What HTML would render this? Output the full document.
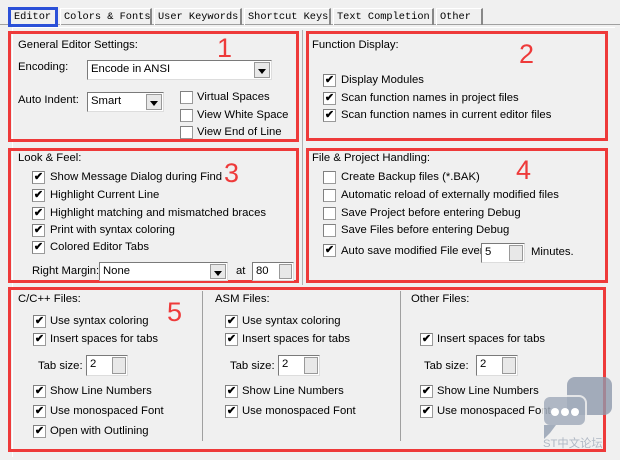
<!DOCTYPE html>
<html><head><meta charset="utf-8"><style>
body{margin:0;width:620px;height:460px;background:#f0f0f0;position:relative;overflow:hidden;font-family:"Liberation Sans",sans-serif}
div,span{position:absolute;box-sizing:border-box}
.t{font-size:11.3px;line-height:14px;white-space:nowrap;color:#000}
.r{border:3px solid #ee3a3a}
.n{color:#ee3a3a;font-size:27px;line-height:28px}
.c{width:13px;height:13px;background:#fff;border:1px solid #9a9a9a;border-top-color:#808080;border-left-color:#808080;font-size:11px;line-height:11px;text-align:center;font-weight:bold}
.sel{background:#fff;border:1px solid #7a7a7a;border-right-color:#ddd;border-bottom-color:#ddd;font-size:11.3px;line-height:17px;padding-left:3px;white-space:nowrap}
.btn{background:#e8e8e8;border:1px solid #999;width:16px;right:1px;top:1px;bottom:1px}
.tab{top:8px;height:17px;font-family:"Liberation Mono",monospace;font-size:10.3px;line-height:16px;padding-left:3px;border-right:2px solid #888;border-top:1px solid #fff;border-left:1px solid #fff;white-space:nowrap}
</style></head><body>
<div style="left:0;top:24px;width:620px;height:1px;background:#a0a0a0"></div>
<div style="left:12px;top:27px;width:603px;height:430px;border-left:1px solid #fff;border-top:1px solid #fff"></div>
<div class="tab" style="left:60px;width:92px">Colors &amp; Fonts</div>
<div class="tab" style="left:154px;width:88px">User Keywords</div>
<div class="tab" style="left:244px;width:87px">Shortcut Keys</div>
<div class="tab" style="left:333px;width:101px">Text Completion</div>
<div class="tab" style="left:436px;width:47px">Other</div>
<div class="tab" style="left:8px;width:50px;border:3px solid #2b50d8;background:#f0f0f0;top:7px;height:20px;line-height:14px">Editor</div>
<div style="left:302px;top:30px;width:1px;height:255px;background:#b0b0b0"></div>

<div class="r" style="left:8px;top:31px;width:291px;height:111px"></div>
<div class="r" style="left:306px;top:31px;width:302px;height:110px"></div>
<div class="r" style="left:8px;top:148px;width:291px;height:135px"></div>
<div class="r" style="left:306px;top:148px;width:302px;height:135px"></div>
<div class="r" style="left:8px;top:287px;width:598px;height:165px"></div>

<!-- box1 -->
<span class="n" style="left:217px;top:34px">1</span>
<span class="t" style="left:18px;top:38px">General Editor Settings:</span>
<span class="t" style="left:18px;top:60px">Encoding:</span>
<div class="sel" style="left:87px;top:60px;width:185px;height:20px">Encode in ANSI<div class="btn"><span style="left:3px;top:6px;border:4px solid transparent;border-top:5px solid #000;width:0;height:0"></span></div></div>
<span class="t" style="left:18px;top:93px">Auto Indent:</span>
<div class="sel" style="left:87px;top:92px;width:77px;height:20px">Smart<div class="btn"><span style="left:3px;top:6px;border:4px solid transparent;border-top:5px solid #000;width:0;height:0"></span></div></div>
<div class="c" style="left:180px;top:91px"></div><span class="t" style="left:197px;top:90px">Virtual Spaces</span>
<div class="c" style="left:180px;top:109px"></div><span class="t" style="left:197px;top:108px">View White Space</span>
<div class="c" style="left:180px;top:126px"></div><span class="t" style="left:197px;top:125px">View End of Line</span>

<!-- box2 -->
<span class="n" style="left:519px;top:40px">2</span>
<span class="t" style="left:312px;top:38px">Function Display:</span>
<div class="c" style="left:323px;top:74px">✔</div><span class="t" style="left:341px;top:73px">Display Modules</span>
<div class="c" style="left:323px;top:92px">✔</div><span class="t" style="left:341px;top:91px">Scan function names in project files</span>
<div class="c" style="left:323px;top:109px">✔</div><span class="t" style="left:341px;top:108px">Scan function names in current editor files</span>

<!-- box3 -->
<span class="n" style="left:224px;top:159px">3</span>
<span class="t" style="left:18px;top:151px">Look &amp; Feel:</span>
<div class="c" style="left:32px;top:171px">✔</div><span class="t" style="left:50px;top:170px">Show Message Dialog during Find</span>
<div class="c" style="left:32px;top:189px">✔</div><span class="t" style="left:50px;top:188px">Highlight Current Line</span>
<div class="c" style="left:32px;top:207px">✔</div><span class="t" style="left:50px;top:206px">Highlight matching and mismatched braces</span>
<div class="c" style="left:32px;top:224px">✔</div><span class="t" style="left:50px;top:223px">Print with syntax coloring</span>
<div class="c" style="left:32px;top:241px">✔</div><span class="t" style="left:50px;top:240px">Colored Editor Tabs</span>
<span class="t" style="left:32px;top:264px">Right Margin:</span>
<div class="sel" style="left:99px;top:262px;width:129px;height:19px">None<div class="btn"><span style="left:3px;top:6px;border:4px solid transparent;border-top:5px solid #000;width:0;height:0"></span></div></div>
<span class="t" style="left:236px;top:264px">at</span>
<div class="sel" style="left:252px;top:262px;width:42px;height:19px">80<div class="btn" style="width:13px"></div></div>

<!-- box4 -->
<span class="n" style="left:516px;top:156px">4</span>
<span class="t" style="left:312px;top:151px">File &amp; Project Handling:</span>
<div class="c" style="left:323px;top:171px"></div><span class="t" style="left:341px;top:170px">Create Backup files (*.BAK)</span>
<div class="c" style="left:323px;top:189px"></div><span class="t" style="left:341px;top:188px">Automatic reload of externally modified files</span>
<div class="c" style="left:323px;top:207px"></div><span class="t" style="left:341px;top:206px">Save Project before entering Debug</span>
<div class="c" style="left:323px;top:224px"></div><span class="t" style="left:341px;top:223px">Save Files before entering Debug</span>
<div class="c" style="left:323px;top:244px">✔</div><span class="t" style="left:341px;top:244px">Auto save modified File every</span>
<div class="sel" style="left:481px;top:243px;width:44px;height:20px">5<div class="btn" style="width:14px"></div></div>
<span class="t" style="left:531px;top:245px">Minutes.</span>

<!-- box5 -->
<span class="n" style="left:167px;top:298px">5</span>
<div style="left:202px;top:291px;width:1px;height:150px;background:#a0a0a0"></div>
<div style="left:400px;top:291px;width:1px;height:150px;background:#a0a0a0"></div>
<span class="t" style="left:18px;top:292px">C/C++ Files:</span>
<div class="c" style="left:33px;top:315px">✔</div><span class="t" style="left:50px;top:314px">Use syntax coloring</span>
<div class="c" style="left:33px;top:333px">✔</div><span class="t" style="left:50px;top:332px">Insert spaces for tabs</span>
<span class="t" style="left:38px;top:359px">Tab size:</span>
<div class="sel" style="left:86px;top:355px;width:42px;height:21px">2<div class="btn" style="width:14px"></div></div>
<div class="c" style="left:33px;top:385px">✔</div><span class="t" style="left:50px;top:384px">Show Line Numbers</span>
<div class="c" style="left:33px;top:405px">✔</div><span class="t" style="left:50px;top:404px">Use monospaced Font</span>
<div class="c" style="left:33px;top:425px">✔</div><span class="t" style="left:50px;top:424px">Open with Outlining</span>

<span class="t" style="left:215px;top:292px">ASM Files:</span>
<div class="c" style="left:225px;top:315px">✔</div><span class="t" style="left:242px;top:314px">Use syntax coloring</span>
<div class="c" style="left:225px;top:333px">✔</div><span class="t" style="left:242px;top:332px">Insert spaces for tabs</span>
<span class="t" style="left:230px;top:359px">Tab size:</span>
<div class="sel" style="left:278px;top:355px;width:42px;height:21px">2<div class="btn" style="width:14px"></div></div>
<div class="c" style="left:225px;top:385px">✔</div><span class="t" style="left:242px;top:384px">Show Line Numbers</span>
<div class="c" style="left:225px;top:405px">✔</div><span class="t" style="left:242px;top:404px">Use monospaced Font</span>

<span class="t" style="left:411px;top:292px">Other Files:</span>
<div class="c" style="left:420px;top:333px">✔</div><span class="t" style="left:437px;top:332px">Insert spaces for tabs</span>
<span class="t" style="left:424px;top:359px">Tab size:</span>
<div class="sel" style="left:476px;top:355px;width:42px;height:21px">2<div class="btn" style="width:14px"></div></div>
<div class="c" style="left:420px;top:385px">✔</div><span class="t" style="left:437px;top:384px">Show Line Numbers</span>
<div class="c" style="left:420px;top:405px">✔</div><span class="t" style="left:437px;top:404px">Use monospaced Font</span>

<!-- watermark -->
<div style="left:567px;top:377px;width:45px;height:38px;background:#8e9aac;border-radius:8px;opacity:.8"></div>
<div style="left:542px;top:395px;width:45px;height:32px;background:#a4aebd;border-radius:8px;opacity:.85;border:2px solid #f0f0f0"></div>
<div style="left:544px;top:425px;border:6px solid transparent;border-top:8px solid #a4aebd;border-left:6px solid #a4aebd;width:0;height:0"></div>
<div style="left:551px;top:408px;width:8px;height:8px;border-radius:4px;background:#fff"></div>
<div style="left:561px;top:408px;width:8px;height:8px;border-radius:4px;background:#fff"></div>
<div style="left:571px;top:408px;width:8px;height:8px;border-radius:4px;background:#fff"></div>
<span class="t" style="left:543px;top:437px;color:#b0b8c4;font-family:'Liberation Sans','Noto Sans CJK SC',sans-serif">ST中文论坛</span>
</body></html>
